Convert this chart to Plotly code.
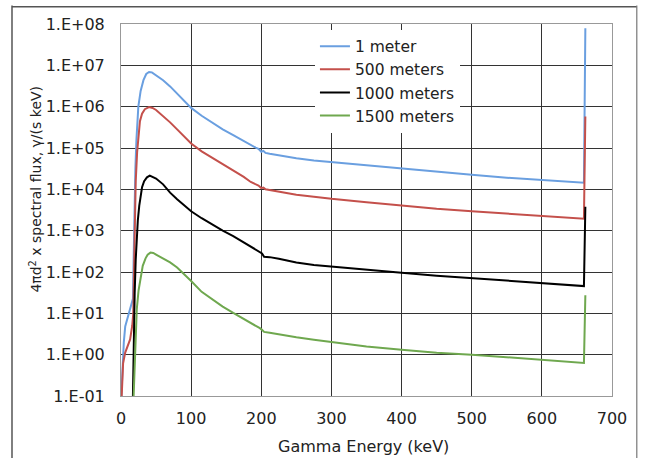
import plotly.graph_objects as go

# ---- data ----
energy_1m = [0.5, 2, 4, 6, 10, 14, 16, 17, 18, 19, 20.5, 22, 24.7, 28, 32, 36, 40, 44, 50, 60, 70, 80, 90, 100,
             115, 130, 145, 160, 175, 185, 192, 196, 200, 203, 206, 212, 225, 250, 275, 300, 350, 400, 450, 500,
             550, 600, 640, 660, 662]
flux_1m = [0.1, 0.501, 2.0, 4.79, 8.91, 15.1, 19.1, 22.4, 200, 2510, 3.16e4, 1.58e5, 1.0e6, 2.4e6, 4.37e6, 6.17e6,
           6.92e6, 6.76e6, 5.75e6, 4.37e6, 3.09e6, 2.09e6, 1.35e6, 9.33e5, 6.03e5, 4.07e5, 2.82e5, 2.04e5, 1.45e5,
           1.15e5, 1.02e5, 9.55e4, 8.13e4, 8.51e4, 7.59e4, 7.24e4, 6.61e4, 5.62e4, 5.01e4, 4.57e4, 3.80e4, 3.16e4,
           2.63e4, 2.24e4, 1.91e4, 1.66e4, 1.51e4, 1.45e4, 7.94e7]

energy_500m = [1, 3, 6, 10, 13, 16, 17.5, 18.5, 19.5, 21, 23, 25, 27, 30, 34, 40, 45, 50, 60, 70, 80, 90, 100, 115,
               130, 145, 160, 175, 185, 192, 196, 200, 203, 206, 212, 225, 250, 275, 300, 350, 400, 450, 500, 550,
               600, 640, 660, 662]
flux_500m = [0.1, 0.617, 1.12, 1.78, 2.34, 5.01, 10, 100, 1580, 1.58e4, 7.94e4, 2.24e5, 4.47e5, 6.76e5, 8.71e5,
             9.77e5, 9.33e5, 8.32e5, 6.03e5, 4.17e5, 2.82e5, 1.86e5, 1.29e5, 8.32e4, 5.89e4, 3.98e4, 2.82e4, 2.0e4,
             1.51e4, 1.32e4, 1.23e4, 1.07e4, 1.10e4, 1.0e4, 9.55e3, 8.71e3, 7.41e3, 6.61e3, 5.89e3, 4.9e3, 4.07e3,
             3.39e3, 2.95e3, 2.57e3, 2.29e3, 2.04e3, 1.95e3, 5.75e5]

energy_1000m = [17, 18, 19.5, 21, 22.5, 24, 26, 28, 30, 33, 37, 41, 46, 50, 60, 70, 80, 90, 100, 115, 130, 145, 160,
                175, 185, 192, 198, 201, 204, 212, 225, 250, 275, 300, 350, 400, 450, 500, 550, 600, 640, 660, 662]
flux_1000m = [0.1, 2.51, 31.6, 200, 708, 1780, 3980, 7590, 1.12e4, 1.58e4, 1.95e4, 2.14e4, 2.0e4, 1.82e4, 1.32e4,
              8.32e3, 5.75e3, 4.07e3, 2.95e3, 2.0e3, 1.38e3, 1.0e3, 741, 525, 398, 355, 302, 282, 234, 229, 209, 170,
              148, 135, 112, 95.5, 81.3, 70.8, 61.7, 52.5, 47.9, 45.7, 3.8e3]

energy_1500m = [18, 19.5, 21, 22.5, 25, 28, 31, 35, 38, 42, 46, 50, 60, 70, 80, 90, 100, 115, 130, 145, 160, 175,
                185, 192, 198, 201, 204, 212, 225, 250, 275, 300, 350, 400, 450, 500, 550, 600, 640, 660, 662]
flux_1500m = [0.1, 0.631, 3.98, 12.6, 35.5, 79.4, 141, 214, 263, 295, 288, 263, 214, 170, 129, 89.1, 60.3, 33.1,
              21.4, 14.5, 10.2, 7.41, 5.89, 5.13, 4.37, 3.98, 3.55, 3.39, 3.09, 2.63, 2.29, 2.0, 1.58, 1.32, 1.12,
              1.0, 0.871, 0.741, 0.661, 0.631, 27.5]

series_names = ["1 meter", "500 meters", "1000 meters", "1500 meters"]
series_colors = ["#6a9fe0", "#c4504b", "#000000", "#6fa84f"]

x_tick_vals = [0, 100, 200, 300, 400, 500, 600, 700]
y_tick_vals = [1e-1, 1e0, 1e1, 1e2, 1e3, 1e4, 1e5, 1e6, 1e7, 1e8]
y_tick_text = ["1.E-01", "1.E+00", "1.E+01", "1.E+02", "1.E+03", "1.E+04", "1.E+05", "1.E+06", "1.E+07", "1.E+08"]

FONT = "DejaVu Sans"

fig = go.Figure()
for xs, ys, name, col in zip([energy_1m, energy_500m, energy_1000m, energy_1500m],
                             [flux_1m, flux_500m, flux_1000m, flux_1500m],
                             series_names, series_colors):
    fig.add_trace(go.Scatter(x=xs, y=ys, mode="lines", name=name,
                             line=dict(color=col, width=2)))

fig.update_layout(
    width=645, height=458,
    margin=dict(l=121, r=33, t=24, b=62),
    paper_bgcolor="white", plot_bgcolor="white",
    font=dict(family=FONT, size=16, color="#222"),
    showlegend=True,
    legend=dict(x=0.395, y=0.985, xanchor="left", yanchor="top",
                bgcolor="white", borderwidth=0,
                font=dict(family=FONT, size=15.5, color="#222"),
                tracegroupgap=0),
    xaxis=dict(range=[0, 700], tickvals=x_tick_vals, showgrid=True, gridcolor="#333", gridwidth=1,
               zeroline=False, showline=True, linecolor="#999", mirror=True, ticks="",
               ticklabelstandoff=8, tickfont=dict(size=16)),
    yaxis=dict(type="log", range=[-1, 8], tickvals=y_tick_vals, ticktext=y_tick_text,
               showgrid=True, gridcolor="#333", gridwidth=1, zeroline=False,
               showline=True, linecolor="#999", mirror=True, ticks="",
               ticklabelstandoff=12, tickfont=dict(size=16)),
    annotations=[
        dict(text="Gamma Energy (keV)", xref="paper", yref="paper", x=0.493, y=-0.136,
             xanchor="center", yanchor="middle", showarrow=False, font=dict(size=16, color="#222")),
        dict(text="4πd<sup>2</sup> x spectral flux, γ/(s keV)", xref="paper", yref="paper",
             x=-0.175, y=0.555, xanchor="center", yanchor="middle", textangle=-90,
             showarrow=False, font=dict(size=14, color="#222")),
    ],
    shapes=[
        dict(type="line", xref="paper", yref="paper", x0=-0.222, x1=-0.222, y0=1.05, y1=-0.2,
             line=dict(color="#555", width=1.5)),
        dict(type="line", xref="paper", yref="paper", x0=-0.222, x1=1.0505, y0=1.0465, y1=1.0465,
             line=dict(color="#555", width=1.5)),
        dict(type="line", xref="paper", yref="paper", x0=1.0505, x1=1.0505, y0=1.05, y1=-0.2,
             line=dict(color="#777", width=1.2)),
    ],
)

fig.write_html("out.html")
